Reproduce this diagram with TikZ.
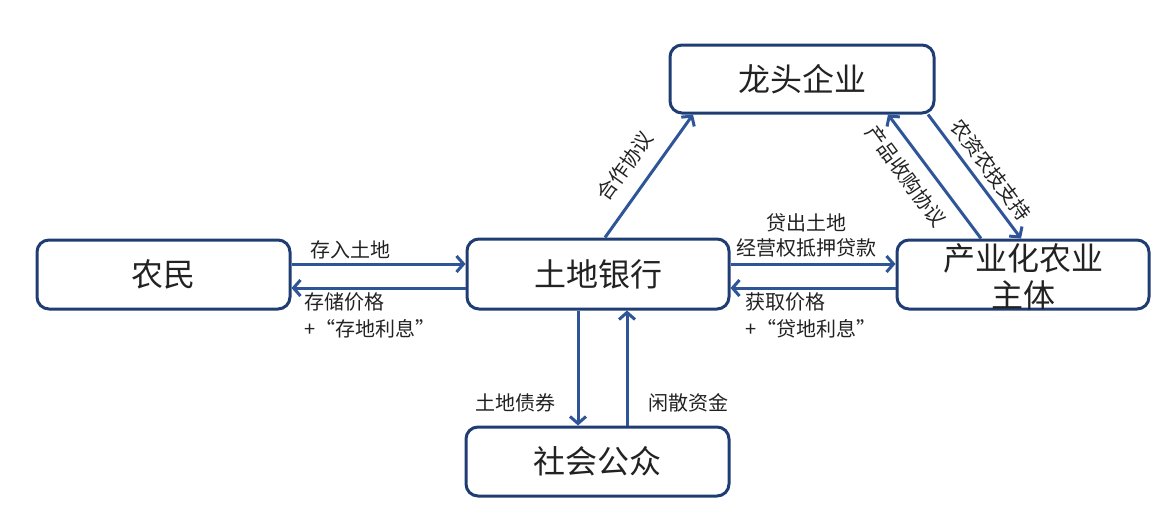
\documentclass[tikz,border=0pt]{standalone}
\usepackage{fontspec}
\setmainfont{Noto Sans CJK SC}
\usetikzlibrary{arrows.meta}
\definecolor{boxc}{HTML}{1F3D73}
\definecolor{arrc}{HTML}{2E5597}
\definecolor{txt}{HTML}{222222}
\begin{document}
\begin{tikzpicture}[x=1pt,y=-1pt,
  box/.style={draw=boxc, line width=3pt, rounded corners=12pt, inner sep=0pt, text=txt,
    font=\fontsize{32}{37}\selectfont, align=center},
  arr/.style={draw=arrc, line width=3pt, -{Straight Barb[length=7pt,width=16pt,line width=3pt]}},
  lbl/.style={text=txt, font=\fontsize{20}{27}\selectfont, inner sep=0pt, align=left}]
\useasboundingbox (0,0) rectangle (1169,517);
\node[box, minimum width=253pt, minimum height=69pt] (farmer) at (163.5,274.5) {农民};
\node[box, minimum width=262pt, minimum height=70pt] (bank) at (598,274) {土地银行};
\node[box, minimum width=264pt, minimum height=68pt] (lead) at (802,79) {龙头企业};
\node[box, minimum width=252pt, minimum height=69pt] (ind) at (1023,274.5) {};
\node[text=txt, font=\fontsize{32}{37}\selectfont, align=center, inner sep=0pt] (indtxt) at (1023,277) {产业化农业\\主体};
\node[box, minimum width=263pt, minimum height=69pt] (pub) at (597.5,461.5) {社会公众};

% farmer <-> bank
\draw[arr] (farmer.east |- 0,264) -- (bank.west |- 0,264);
\node[lbl] (l1) at (350,250) {存入土地};
\draw[arr] (bank.west |- 0,288) -- (farmer.east |- 0,288);
\node[lbl, anchor=north west] (l2) at (304,292) {存储价格\\+“存地利息”};

% bank <-> industrial
\draw[arr] (bank.east |- 0,264) -- (ind.west |- 0,264);
\node[lbl, align=center, font=\fontsize{20}{25}\selectfont, anchor=south] (l3) at (806,257) {贷出土地\\经营权抵押贷款};
\draw[arr] (ind.west |- 0,288) -- (bank.east |- 0,288);
\node[lbl, anchor=north west] (l4) at (745,292) {获取价格\\+“贷地利息”};

% bank -> lead
\draw[arr] (bank.north -| 605,0) -- (lead.south -| 693,0);
\node[lbl, rotate=54.4] (l5) at (625,166) {合作协议};

% industrial -> lead, lead -> industrial
\draw[arr] (ind.north -| 981,0) -- (lead.south -| 888,0);
\node[lbl, rotate=-53.5] (l6) at (906,176) {产品收购协议};
\draw[arr] (lead.south -| 928,0) -- (ind.north -| 1021,0);
\node[lbl, rotate=-53.5] (l7) at (991,170) {农资农技支持};

% bank <-> public
\draw[arr] (bank.south -| 578,0) -- (pub.north -| 578,0);
\node[lbl] (l8) at (515,403) {土地债券};
\draw[arr] (pub.north -| 627,0) -- (bank.south -| 627,0);
\node[lbl] (l9) at (688,403) {闲散资金};
\end{tikzpicture}
\end{document}
